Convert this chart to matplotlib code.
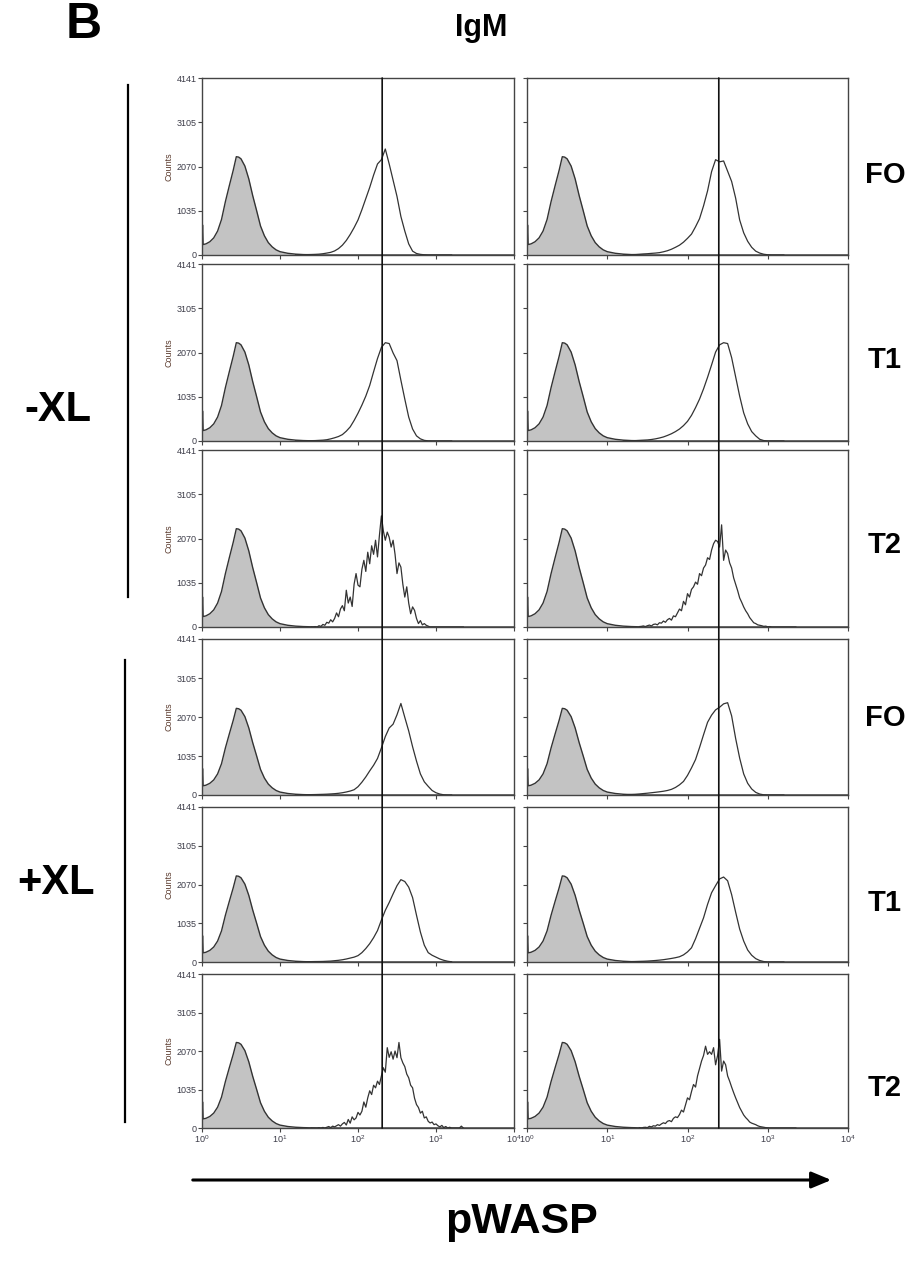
import numpy as np
import matplotlib
matplotlib.use("Agg")
import matplotlib.pyplot as plt
from matplotlib.patches import ConnectionPatch, FancyArrowPatch

plt.rcParams['font.family'] = ['Liberation Sans', 'DejaVu Sans']
plt.rcParams['mathtext.fontset'] = 'custom'
plt.rcParams['mathtext.rm'] = 'Liberation Sans'
plt.rcParams['mathtext.it'] = 'Liberation Sans'

# ---------------- data ----------------
ROW_LABELS = ["FO", "T1", "T2", "FO", "T1", "T2"]
GROUP_LABELS = ["-XL", "+XL"]
Y_TICKS = [0, 1035, 2070, 3105, 4141]
X_TICK_EXP = [0, 1, 2, 3, 4]
Y_MAX = 4141
GATE_EXP = [2.31, 2.39]          # gate marker position (log10 channel) per column

# unstained / isotype control (grey filled), log10 channel positions and counts
CTRL_EXP = [0.0, 0.0, 0.006, 0.008, 0.014, 0.05, 0.10, 0.15, 0.20, 0.25, 0.30, 0.35,
            0.40, 0.44, 0.47, 0.50, 0.55, 0.60, 0.65, 0.70, 0.75, 0.80, 0.85, 0.90,
            0.95, 1.00, 1.10, 1.20, 1.30, 1.40, 1.50, 4.0]
CTRL_CNT = [0, 240, 700, 700, 245, 260, 310, 400, 560, 830, 1250, 1620,
            1980, 2300, 2290, 2250, 2080, 1780, 1390, 1040, 680, 450, 290, 190,
            120, 78, 40, 20, 10, 5, 0, 0]

# smooth stained histograms: log10 channel 1.20 .. 3.20 step 0.05
SMOOTH_EXP = [1.20, 1.25, 1.30, 1.35, 1.40, 1.45, 1.50, 1.55, 1.60, 1.65, 1.70, 1.75,
              1.80, 1.85, 1.90, 1.95, 2.00, 2.05, 2.10, 2.15, 2.20, 2.25, 2.30, 2.35,
              2.40, 2.45, 2.50, 2.55, 2.60, 2.65, 2.70, 2.75, 2.80, 2.85, 2.90, 2.95,
              3.00, 3.05, 3.10, 3.15, 3.20]
NOXL_FO_L = [5, 5, 8, 10, 12, 15, 20, 30, 45, 62, 95, 150, 230, 340, 480, 640, 820,
             1060, 1320, 1580, 1870, 2130, 2230, 2480, 2130, 1750, 1370, 900, 560, 260,
             90, 35, 15, 5, 0, 0, 0, 0, 0, 0, 0]
NOXL_FO_R = [3, 5, 8, 12, 18, 25, 30, 38, 45, 55, 75, 100, 135, 180, 230, 300, 390,
             490, 660, 850, 1150, 1500, 1950, 2230, 2180, 2200, 1960, 1720, 1330, 820,
             520, 320, 180, 90, 45, 18, 5, 0, 0, 0, 0]
NOXL_T1_L = [3, 3, 5, 5, 8, 10, 15, 20, 30, 50, 75, 105, 150, 230, 330, 480, 650, 840,
             1050, 1300, 1620, 1930, 2190, 2300, 2280, 2060, 1880, 1420, 980, 560, 280,
             120, 50, 15, 3, 0, 0, 0, 0, 0, 0]
NOXL_T1_R = [3, 5, 8, 10, 15, 20, 25, 35, 50, 70, 95, 130, 170, 220, 280, 360, 460,
             600, 780, 980, 1220, 1490, 1780, 2080, 2250, 2300, 2280, 1950, 1500, 1050,
             660, 400, 220, 120, 40, 10, 0, 0, 0, 0, 0]
XL_FO_L = [5, 5, 5, 8, 10, 12, 15, 18, 22, 28, 35, 45, 60, 80, 105, 140, 220, 340,
           480, 640, 790, 970, 1250, 1550, 1780, 1880, 2130, 2430, 2060, 1700, 1280,
           900, 560, 350, 230, 120, 60, 25, 5, 0, 0]
XL_FO_R = [8, 10, 15, 20, 28, 38, 48, 60, 72, 85, 100, 120, 150, 200, 270, 360, 520,
           720, 940, 1260, 1600, 1930, 2120, 2260, 2330, 2420, 2450, 2100, 1500, 980,
           560, 310, 160, 70, 25, 5, 0, 0, 0, 0, 0]
XL_T1_L = [5, 5, 6, 8, 10, 12, 13, 15, 20, 25, 35, 45, 60, 80, 105, 130, 170, 250,
           360, 490, 650, 840, 1120, 1380, 1590, 1820, 2040, 2200, 2150, 2000, 1720,
           1250, 800, 450, 250, 180, 130, 80, 45, 20, 5]
XL_T1_R = [6, 8, 10, 14, 17, 20, 25, 32, 40, 50, 62, 78, 95, 115, 140, 190, 270, 380,
           620, 900, 1180, 1540, 1850, 2040, 2220, 2270, 2170, 1800, 1330, 880, 560,
           320, 180, 90, 40, 12, 0, 0, 0, 0, 0]

# noisy stained histograms (T2): log10 channel 1.400 .. 3.350 step 0.025
NOISY_EXP = [1.400, 1.425, 1.450, 1.475, 1.500, 1.525, 1.550, 1.575, 1.600, 1.625,
             1.650, 1.675, 1.700, 1.725, 1.750, 1.775, 1.800, 1.825, 1.850, 1.875,
             1.900, 1.925, 1.950, 1.975, 2.000, 2.025, 2.050, 2.075, 2.100, 2.125,
             2.150, 2.175, 2.200, 2.225, 2.250, 2.275, 2.300, 2.325, 2.350, 2.375,
             2.400, 2.425, 2.450, 2.475, 2.500, 2.525, 2.550, 2.575, 2.600, 2.625,
             2.650, 2.675, 2.700, 2.725, 2.750, 2.775, 2.800, 2.825, 2.850, 2.875,
             2.900, 2.925, 2.950, 2.975, 3.000, 3.025, 3.050, 3.075, 3.100, 3.125,
             3.150, 3.175, 3.200, 3.225, 3.250, 3.275, 3.300, 3.325, 3.350]
NOXL_T2_L = [0, 0, 10, 0, 30, 15, 60, 40, 110, 90,
             170, 120, 200, 330, 240, 420, 500, 380, 860, 560,
             700, 480, 1000, 1250, 980, 940, 1350, 1560, 1300, 1750,
             1480, 1900, 1700, 2030, 1640, 2150, 2600, 2250, 2030, 2220,
             2100, 1870, 2030, 1700, 1250, 1500, 1400, 1000, 700, 940,
             560, 310, 470, 390, 200, 80, 150, 50, 80, 40,
             20, 0, 0, 0, 0, 0, 0, 0, 0, 0,
             0, 0, 0, 0, 0, 0, 0, 0, 0]
NOXL_T2_R = [10, 15, 25, 10, 30, 45, 25, 60, 70, 50,
             100, 90, 140, 110, 170, 200, 160, 260, 240, 330,
             420, 380, 600, 520, 780, 700, 880, 940, 1050, 1000,
             1250, 1200, 1380, 1450, 1620, 1580, 1800, 1950, 2030, 2000,
             1870, 2390, 1560, 1800, 1720, 1500, 1380, 1150, 1000, 850,
             680, 580, 470, 380, 310, 220, 160, 100, 80, 50,
             40, 30, 15, 20, 5, 10, 0, 0, 0, 0,
             0, 0, 0, 0, 0, 0, 0, 0, 0]
XL_T2_L = [0, 0, 0, 0, 10, 0, 15, 0, 20, 40,
           10, 50, 30, 60, 90, 50, 110, 150, 80, 230,
           130, 300, 220, 270, 420, 350, 450, 700, 560, 810,
           1000, 900, 1150, 1080, 1260, 1170, 1400, 1620, 1500, 2160,
           1900, 2050, 1850, 2070, 1890, 2300, 1890, 1750, 1650, 1450,
           1350, 1150, 1080, 800, 630, 550, 400, 450, 270, 300,
           180, 135, 160, 90, 110, 60, 30, 70, 10, 40,
           0, 20, 0, 0, 0, 0, 0, 50, 0]
XL_T2_R = [10, 0, 15, 20, 10, 45, 30, 60, 50, 90,
           70, 110, 140, 120, 180, 200, 170, 260, 300, 280,
           360, 480, 430, 620, 810, 760, 980, 1170, 1100, 1400,
           1600, 1800, 1950, 2200, 1980, 2050, 1980, 2160, 1700, 1950,
           2385, 1530, 1800, 1700, 1400, 1260, 1100, 950, 810, 680,
           550, 450, 350, 280, 225, 160, 130, 110, 90, 60,
           40, 30, 20, 10, 5, 0, 0, 0, 0, 0,
           0, 0, 0, 0, 0, 0, 0, 0, 0]

STAINED = [
    [(SMOOTH_EXP, NOXL_FO_L), (SMOOTH_EXP, NOXL_FO_R)],
    [(SMOOTH_EXP, NOXL_T1_L), (SMOOTH_EXP, NOXL_T1_R)],
    [(NOISY_EXP, NOXL_T2_L), (NOISY_EXP, NOXL_T2_R)],
    [(SMOOTH_EXP, XL_FO_L), (SMOOTH_EXP, XL_FO_R)],
    [(SMOOTH_EXP, XL_T1_L), (SMOOTH_EXP, XL_T1_R)],
    [(NOISY_EXP, XL_T2_L), (NOISY_EXP, XL_T2_R)],
]

# ---------------- layout ----------------
W, H = 924, 1278
fig = plt.figure(figsize=(W / 100, H / 100), dpi=100)
fig.patch.set_facecolor('white')

ROW_TOPS = [78, 264, 450, 639, 807, 974]
ROW_BOTS = [255, 441, 627, 795, 962, 1128]
COLS = [(202, 514), (527, 848)]

def fx(x):
    return x / W

def fy(y):
    return 1 - y / H

EDGE = '#333333'
FILL = '#c3c3c3'
TICKC = '#3c3c48'

axes = []
for r in range(6):
    row_axes = []
    for c in range(2):
        x0, x1 = COLS[c]
        ax = fig.add_axes([fx(x0), fy(ROW_BOTS[r]), (x1 - x0) / W,
                           (ROW_BOTS[r] - ROW_TOPS[r]) / H])
        ax.set_xscale('log')
        ax.set_xlim(10 ** X_TICK_EXP[0], 10 ** X_TICK_EXP[-1])
        ax.set_ylim(0, Y_MAX)
        # control
        cx = 10 ** np.array(CTRL_EXP)
        ax.fill_between(cx, CTRL_CNT, 0, color=FILL, lw=0, zorder=1)
        ax.plot(cx, CTRL_CNT, color=EDGE, lw=1.0, zorder=2)
        # stained
        sx, sy = STAINED[r][c]
        ax.plot(10 ** np.array(sx), sy, color=EDGE, lw=0.9, zorder=3)
        # ticks
        ax.set_xticks([10 ** e for e in X_TICK_EXP])
        ax.xaxis.set_minor_locator(matplotlib.ticker.NullLocator())
        ax.set_yticks(Y_TICKS)
        ax.tick_params(direction='out', length=3, width=0.8, color='#444444',
                       labelsize=6.5, labelcolor=TICKC, pad=1)
        if r == 5:
            ax.set_xticklabels([r'$10^{%d}$' % e for e in X_TICK_EXP])
        else:
            ax.set_xticklabels([])
        if c == 0:
            ax.set_yticklabels([str(v) for v in Y_TICKS])
            ax.set_ylabel('Counts', fontsize=6.5, color='#5b3b2e', labelpad=2)
        else:
            ax.set_yticklabels([])
        for s in ax.spines.values():
            s.set_color('#444444')
            s.set_linewidth(1.0)
        row_axes.append(ax)
    axes.append(row_axes)

# gate marker lines spanning all rows of each column
for c in range(2):
    g = 10 ** GATE_EXP[c]
    con = ConnectionPatch(xyA=(g, Y_MAX), coordsA=axes[0][c].transData,
                          xyB=(g, 0), coordsB=axes[5][c].transData,
                          color='#111111', lw=1.2, zorder=10)
    fig.add_artist(con)

# ---------------- annotations ----------------
fig.text(fx(84), fy(25), 'B', fontsize=36, fontweight='bold', ha='center', va='center')
fig.text(fx(481), fy(28), 'IgM', fontsize=22, fontweight='bold', ha='center', va='center')

ROW_LABEL_Y = [175, 360, 545, 718, 903, 1088]
for lab, y in zip(ROW_LABELS, ROW_LABEL_Y):
    fig.text(fx(885), fy(y), lab, fontsize=21, fontweight='bold', ha='center', va='center')

fig.text(fx(58), fy(410), GROUP_LABELS[0], fontsize=30, fontweight='bold', ha='center', va='center')
fig.text(fx(56), fy(883), GROUP_LABELS[1], fontsize=30, fontweight='bold', ha='center', va='center')

fig.add_artist(plt.Line2D([fx(128), fx(128)], [fy(85), fy(597)], color='black', lw=1.6))
fig.add_artist(plt.Line2D([fx(125), fx(125)], [fy(660), fy(1122)], color='black', lw=1.6))

arrow = FancyArrowPatch((fx(190), fy(1180)), (fx(834), fy(1180)), transform=fig.transFigure,
                        arrowstyle='-|>,head_length=12,head_width=5', color='black', lw=2.2,
                        mutation_scale=1)
fig.add_artist(arrow)
fig.text(fx(522), fy(1222), 'pWASP', fontsize=31, fontweight='bold', ha='center', va='center')

fig.savefig('out.png', dpi=100, facecolor='white')
